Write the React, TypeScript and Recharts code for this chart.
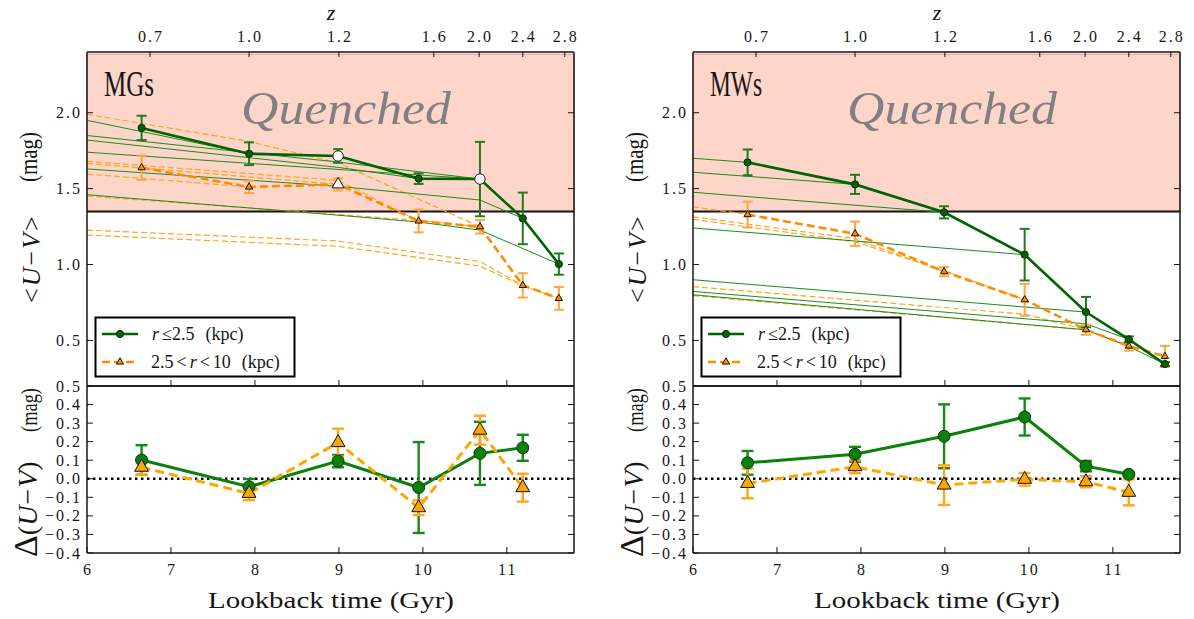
import React from 'react';
import {
  ComposedChart,
  Line,
  XAxis,
  YAxis,
  ErrorBar,
  ReferenceArea,
  ReferenceLine,
} from 'recharts';

const N = null;

// lookback time (Gyr) of each redshift bin
const lookback = [6.65, 7.93, 8.99, 9.95, 10.68, 11.19, 11.62];
// x positions used by the evolution tracks (start at the left edge)
const trackX = [6, 6.65, 7.93, 8.99, 9.95, 10.68, 11.19, 11.62];

// top redshift axis
const zTicks = [6.75, 7.93, 9.0, 10.13, 10.67, 11.19, 11.69];
const zLabels = ['0.7', '1.0', '1.2', '1.6', '2.0', '2.4', '2.8'];

const timeTicks = [6, 7, 8, 9, 10, 11];
const uvTicks = [0.5, 1.0, 1.5, 2.0];
const dTicks = [-0.4, -0.3, -0.2, -0.1, 0, 0.1, 0.2, 0.3, 0.4, 0.5];
const quenchedLimit = 1.35;

// MGs: <U-V> inside r<=2.5 kpc and 2.5<r<10 kpc
const mgInner = [1.9, 1.73, 1.715, 1.566, 1.563, 1.304, 1.003];
const mgInnerErr = [0.08, 0.075, 0.045, 0.035, 0.245, 0.17, 0.07];
const mgOuter = [1.638, 1.511, 1.528, 1.287, 1.249, 0.863, 0.777];
const mgOuterErr = [0.08, 0.04, 0.04, 0.075, 0.045, 0.08, 0.075];
const mgInnerOpen = [2, 4];
const mgOuterOpen = [2];

const mgInnerTracks = [
  [1.95, N, 1.73, N, N, N, N, N],
  [1.85, N, N, 1.675, N, 1.563, N, N],
  [1.82, N, N, 1.64, 1.566, N, N, N],
  [1.74, N, N, N, 1.59, 1.563, N, N],
  [1.63, N, N, 1.515, N, 1.425, 1.304, N],
  [1.46, N, N, 1.325, 1.28, 1.227, N, 1.003],
];
const mgOuterTracks = [
  [1.99, N, 1.81, 1.67, N, 1.249, N, N],
  [1.68, N, N, 1.555, 1.287, N, N, N],
  [1.667, N, N, 1.528, N, N, N, N],
  [1.596, N, 1.511, N, N, N, N, N],
  [1.451, N, N, 1.33, 1.29, 1.249, N, N],
  [1.227, N, N, 1.155, N, 1.02, 0.863, N],
  [1.194, N, N, 1.12, N, 0.99, 0.86, 0.777],
];

const mgDInner = [0.101, -0.043, 0.095, -0.047, 0.137, 0.167];
const mgDInnerErr = [0.08, 0.042, 0.033, 0.245, 0.17, 0.07];
const mgDOuter = [0.062, -0.079, 0.195, -0.156, 0.262, -0.048];
const mgDOuterErr = [0.04, 0.036, 0.075, 0.04, 0.078, 0.075];

// MWs
const mwInner = [1.673, 1.528, 1.344, 1.065, 0.687, 0.507, 0.345];
const mwInnerErr = [0.085, 0.063, 0.04, 0.17, 0.1, 0.02, 0.013];
const mwOuter = [1.329, 1.203, 0.953, 0.768, 0.571, 0.463, 0.395];
const mwOuterErr = [0.085, 0.08, 0.03, 0.105, 0.033, 0.03, 0.07];

const mwInnerTracks = [
  [1.7, 1.673, N, N, N, N, N, N],
  [1.608, N, 1.528, N, N, N, N, N],
  [1.476, N, N, 1.344, N, N, N, N],
  [1.241, N, N, N, 1.065, N, N, N],
  [0.9, N, N, N, N, 0.687, N, N],
  [0.823, N, N, N, N, 0.61, 0.507, N],
  [0.801, N, N, N, N, 0.57, 0.46, 0.345],
];
const mwOuterTracks = [
  [1.381, 1.329, N, N, N, N, N, N],
  [1.315, N, 1.17, 0.953, N, N, N, N],
  [1.298, N, 1.15, 0.96, 0.768, N, N, N],
  [0.854, N, N, N, 0.673, 0.571, N, N],
  [0.795, N, N, N, N, 0.57, 0.463, N],
];

const mwDInner = [0.086, 0.132, 0.229, 0.333, 0.068, 0.024];
const mwDInnerErr = [0.064, 0.04, 0.172, 0.1, 0.028, 0.01];
const mwDOuter = [-0.025, 0.065, -0.034, -0.003, -0.016, -0.073];
const mwDOuterErr = [0.08, 0.035, 0.107, 0.034, 0.03, 0.07];

const INK = '#161616';
const SERIF = '"Liberation Serif", "DejaVu Serif", serif';
const TICK_FONT: React.CSSProperties = { fontFamily: SERIF, fontSize: 16, letterSpacing: 2 };
const AXIS_LINE = { stroke: INK, strokeWidth: 1.5 };

const points = (ys: (number | null)[], errs?: number[]) =>
  ys.map((y, i) => ({ x: (errs ? lookback : trackX)[i], y, e: errs ? errs[i] : 0 })).filter((d) => d.y != null);

type Side = 'left' | 'right' | 'top' | 'bottom';

// inward tick mark + outside label, drawn from the axis line position
const axisTick = (side: Side, label?: (v: number) => string, len = 6) => (p: any) => {
  const { x, y, payload, index } = p;
  let x2 = x, y2 = y, lx = x, ly = y, dy = '0';
  let anchor: 'start' | 'middle' | 'end' = 'middle';
  if (side === 'left') { x2 = x + len; lx = x - 5; anchor = 'end'; dy = '0.35em'; }
  if (side === 'right') { x2 = x - len; }
  if (side === 'top') { y2 = y + len; ly = y - 10; }
  if (side === 'bottom') { y2 = y - len; ly = y + 22; }
  return (
    <g key={`${side}-${index}`}>
      <line x1={x} y1={y} x2={x2} y2={y2} stroke={INK} strokeWidth={1} />
      {label && (
        <text x={lx} y={ly} dy={dy} dx={anchor === 'middle' ? 1 : 0} textAnchor={anchor} fill={INK} style={TICK_FONT}>
          {label(payload.value)}
        </text>
      )}
    </g>
  );
};

const fmt1 = (v: number) => v.toFixed(1).replace('-', '−');
const zFmt = (v: number) => zLabels[zTicks.indexOf(v)] ?? '';
const intFmt = (v: number) => String(v);

const circleDot = (r: number, fill: string, stroke: string, openIdx: number[] = [], openR = r) => (p: any) => {
  const { cx, cy, index } = p;
  if (cx == null || cy == null) return <g key={`c${index}`} />;
  const open = openIdx.includes(index);
  return (
    <circle key={`c${index}`} cx={cx} cy={cy} r={open ? openR : r}
      fill={open ? '#fff' : fill} stroke={open ? '#222' : stroke} strokeWidth={1} />
  );
};

const triDot = (s: number, fill: string, openIdx: number[] = [], openS = s) => (p: any) => {
  const { cx, cy, index } = p;
  if (cx == null || cy == null) return <g key={`t${index}`} />;
  const open = openIdx.includes(index);
  const r = open ? openS : s;
  const d = `M${cx},${cy - r}L${cx + 0.866 * r},${cy + 0.5 * r}L${cx - 0.866 * r},${cy + 0.5 * r}Z`;
  return <path key={`t${index}`} d={d} fill={open ? '#fff' : fill} stroke="#111" strokeWidth={1} />;
};

interface PanelProps {
  left: number;
  inner: number[]; innerErr: number[];
  outer: number[]; outerErr: number[];
  innerOpen?: number[]; outerOpen?: number[];
  innerTracks: (number | null)[][]; outerTracks: (number | null)[][];
  dInner: number[]; dInnerErr: number[];
  dOuter: number[]; dOuterErr: number[];
}

const UVPanel: React.FC<PanelProps> = (p) => {
  const xDomain: [number, number] = [6, 11.8];
  const inner = points(p.inner, p.innerErr);
  const dInner = points(p.dInner, p.dInnerErr);
  return (
    <>
      <div style={{ position: 'absolute', left: p.left, top: 0, width: 600, height: 400 }}>
        <ComposedChart width={600} height={400} margin={{ top: 42, right: 16, bottom: 4, left: 77 }}>
          <XAxis xAxisId="t" dataKey="x" type="number" domain={xDomain} allowDataOverflow
            ticks={[7, 8, 9, 10, 11]} interval={0} height={10} tickSize={0} tickMargin={0}
            tickLine={false} axisLine={AXIS_LINE} tick={axisTick('bottom')} />
          <XAxis xAxisId="z" dataKey="x" orientation="top" type="number" domain={xDomain} allowDataOverflow
            ticks={zTicks} interval={0} height={10} tickSize={0} tickMargin={0}
            tickLine={false} axisLine={AXIS_LINE} tick={axisTick('top', zFmt, 5)} />
          <YAxis yAxisId="l" type="number" domain={[0.2, 2.4]} allowDataOverflow ticks={uvTicks}
            interval={0} width={10} tickSize={0} tickMargin={0} tickLine={false}
            axisLine={AXIS_LINE} tick={axisTick('left', fmt1)} />
          <YAxis yAxisId="r" orientation="right" type="number" domain={[0.2, 2.4]} allowDataOverflow
            ticks={uvTicks} interval={0} width={10} tickSize={0} tickMargin={0} tickLine={false}
            axisLine={AXIS_LINE} tick={axisTick('right')} />

          <ReferenceArea xAxisId="t" yAxisId="l" x1={6} x2={11.8} y1={quenchedLimit} y2={2.385}
            fill="#fdd6c9" fillOpacity={1} stroke="#f6aaa6" strokeWidth={1.5} />
          <ReferenceLine xAxisId="t" yAxisId="l" y={quenchedLimit} stroke={INK} strokeWidth={2} />

          {/* carries the redshift axis and the right-hand frame */}
          <Line xAxisId="z" yAxisId="r" data={inner} dataKey="y" stroke="none" dot={false}
            activeDot={false} isAnimationActive={false} />

          {p.outerTracks.map((t, i) => (
            <Line key={`ot${i}`} xAxisId="t" yAxisId="l" data={points(t)} dataKey="y" type="linear"
              stroke="#ffa51f" strokeWidth={1.2} strokeDasharray="6 3" dot={false} activeDot={false}
              isAnimationActive={false} />
          ))}
          {p.innerTracks.map((t, i) => (
            <Line key={`gt${i}`} xAxisId="t" yAxisId="l" data={points(t)} dataKey="y" type="linear"
              stroke="#1e8a1e" strokeWidth={1} dot={false} activeDot={false} isAnimationActive={false} />
          ))}

          <Line xAxisId="t" yAxisId="l" data={points(p.outer, p.outerErr)} dataKey="y" type="linear"
            stroke="#ff8c00" strokeWidth={2.6} strokeDasharray="8 4"
            dot={triDot(4.2, '#ff8c00', p.outerOpen, 7)} activeDot={false} isAnimationActive={false}>
            <ErrorBar dataKey="e" direction="y" width={5} stroke="#ffa53c" strokeWidth={2} />
          </Line>
          <Line xAxisId="t" yAxisId="l" data={inner} dataKey="y" type="linear"
            stroke="#006400" strokeWidth={2.6}
            dot={circleDot(3.6, '#006400', '#0d2b0d', p.innerOpen, 5.2)} activeDot={false}
            isAnimationActive={false}>
            <ErrorBar dataKey="e" direction="y" width={5} stroke="#207a20" strokeWidth={2} />
          </Line>
        </ComposedChart>
      </div>

      <div style={{ position: 'absolute', left: p.left, top: 370, width: 600, height: 249 }}>
        <ComposedChart width={600} height={249} margin={{ top: 6, right: 16, bottom: 56, left: 77 }}>
          <XAxis xAxisId="t" dataKey="x" type="number" domain={xDomain} allowDataOverflow
            ticks={timeTicks} interval={0} height={10} tickSize={0} tickMargin={0}
            tickLine={false} axisLine={AXIS_LINE} tick={axisTick('bottom', intFmt)} />
          <XAxis xAxisId="top" dataKey="x" orientation="top" type="number" domain={xDomain} allowDataOverflow
            height={10} tick={false} tickLine={false} axisLine={AXIS_LINE} />
          <YAxis yAxisId="l" type="number" domain={[-0.4, 0.5]} allowDataOverflow ticks={dTicks}
            interval={0} width={10} tickSize={0} tickMargin={0} tickLine={false}
            axisLine={AXIS_LINE} tick={axisTick('left', fmt1)} />
          <YAxis yAxisId="r" orientation="right" type="number" domain={[-0.4, 0.5]} allowDataOverflow
            ticks={dTicks} interval={0} width={10} tickSize={0} tickMargin={0} tickLine={false}
            axisLine={AXIS_LINE} tick={axisTick('right')} />

          <ReferenceLine xAxisId="t" yAxisId="l" y={0} stroke="#000" strokeWidth={2.4} strokeDasharray="2.4 3.6" />

          <Line xAxisId="top" yAxisId="r" data={dInner} dataKey="y" stroke="none" dot={false}
            activeDot={false} isAnimationActive={false} />

          <Line xAxisId="t" yAxisId="l" data={dInner} dataKey="y" type="linear"
            stroke="#0a820a" strokeWidth={3} dot={circleDot(6, '#0a800a', '#0d3a0d')} activeDot={false}
            isAnimationActive={false}>
            <ErrorBar dataKey="e" direction="y" width={6} stroke="#158a15" strokeWidth={2.4} />
          </Line>
          <Line xAxisId="t" yAxisId="l" data={points(p.dOuter, p.dOuterErr)} dataKey="y" type="linear"
            stroke="#ffa500" strokeWidth={3} strokeDasharray="9 5" dot={triDot(8, '#ffa500')}
            activeDot={false} isAnimationActive={false}>
            <ErrorBar dataKey="e" direction="y" width={6} stroke="#ffa51a" strokeWidth={2.4} />
          </Line>
        </ComposedChart>
      </div>
    </>
  );
};

// titles, annotations and legend for one panel
const PanelText: React.FC<{ dx: number; name: string; nameWidth: number }> = ({ dx, name, nameWidth }) => {
  const cx = dx + 331;
  return (
    <g fontFamily={SERIF} fill={INK}>
      <text x={cx} y={20} textAnchor="middle" fontStyle="italic" fontSize={22}>z</text>
      <text x={dx + 104} y={96} fontSize={35} textLength={nameWidth} lengthAdjust="spacingAndGlyphs">{name}</text>
      <text x={dx + 241} y={124} fontSize={47} fontStyle="italic" fill="#808080" textLength={210}
        lengthAdjust="spacingAndGlyphs">Quenched</text>

      <g transform={`translate(${dx + 40},217.5) rotate(-90)`}>
        <text x={-85.5} y={0} fontSize={26}>
          <tspan>&lt;</tspan>
          <tspan dx={2} fontStyle="italic">U</tspan>
          <tspan dx={2}>−</tspan>
          <tspan dx={2} fontStyle="italic">V</tspan>
          <tspan dx={2}>&gt;</tspan>
        </text>
        <text x={35.5} y={-3} fontSize={25} textLength={50} lengthAdjust="spacingAndGlyphs">(mag)</text>
      </g>
      <g transform={`translate(${dx + 37},472.5) rotate(-90)`}>
        <text x={-84.5} y={0} fontSize={28}>
          <tspan fontSize={34}>Δ</tspan>
          <tspan>(</tspan>
          <tspan fontStyle="italic">U</tspan>
          <tspan dx={1}>−</tspan>
          <tspan dx={1} fontStyle="italic">V</tspan>
          <tspan>)</tspan>
        </text>
        <text x={40.5} y={0} fontSize={23} textLength={44} lengthAdjust="spacingAndGlyphs">(mag)</text>
      </g>

      <text x={cx} y={608} textAnchor="middle" fontSize={24} textLength={246}
        lengthAdjust="spacingAndGlyphs">Lookback time (Gyr)</text>

      <rect x={dx + 95.5} y={317.5} width={199} height={59} fill="#fff" stroke="#000" strokeWidth={2} />
      <line x1={dx + 102} y1={334} x2={dx + 138} y2={334} stroke="#006400" strokeWidth={2.6} />
      <circle cx={dx + 120} cy={334} r={3.6} fill="#006400" stroke="#0d2b0d" />
      <text x={dx + 152} y={340} fontSize={18}>
        <tspan fontStyle="italic">r</tspan>
        <tspan dx={3}>≤2.5</tspan>
        <tspan dx={11}>(kpc)</tspan>
      </text>
      <line x1={dx + 102} y1={362} x2={dx + 138} y2={362} stroke="#ff8c00" strokeWidth={2.6} strokeDasharray="8 4" />
      <path d={`M${dx + 120},${357.8}L${dx + 123.6},${364.1}L${dx + 116.4},${364.1}Z`} fill="#ff8c00" stroke="#111" />
      <text x={dx + 151} y={368} fontSize={18}>
        <tspan>2.5</tspan>
        <tspan dx={3}>&lt;</tspan>
        <tspan dx={3} fontStyle="italic">r</tspan>
        <tspan dx={3}>&lt;</tspan>
        <tspan dx={3}>10</tspan>
        <tspan dx={11}>(kpc)</tspan>
      </text>
    </g>
  );
};

export default function App() {
  return (
    <div style={{ position: 'absolute', left: 0, top: 0, width: 1194, height: 619, background: '#fff', overflow: 'hidden' }}>
      <UVPanel left={0}
        inner={mgInner} innerErr={mgInnerErr} outer={mgOuter} outerErr={mgOuterErr}
        innerOpen={mgInnerOpen} outerOpen={mgOuterOpen}
        innerTracks={mgInnerTracks} outerTracks={mgOuterTracks}
        dInner={mgDInner} dInnerErr={mgDInnerErr} dOuter={mgDOuter} dOuterErr={mgDOuterErr} />
      <UVPanel left={606}
        inner={mwInner} innerErr={mwInnerErr} outer={mwOuter} outerErr={mwOuterErr}
        innerTracks={mwInnerTracks} outerTracks={mwOuterTracks}
        dInner={mwDInner} dInnerErr={mwDInnerErr} dOuter={mwDOuter} dOuterErr={mwDOuterErr} />
      <svg width={1194} height={619} style={{ position: 'absolute', left: 0, top: 0, pointerEvents: 'none' }}>
        <PanelText dx={0} name="MGs" nameWidth={50} />
        <PanelText dx={606} name="MWs" nameWidth={52} />
      </svg>
    </div>
  );
}
